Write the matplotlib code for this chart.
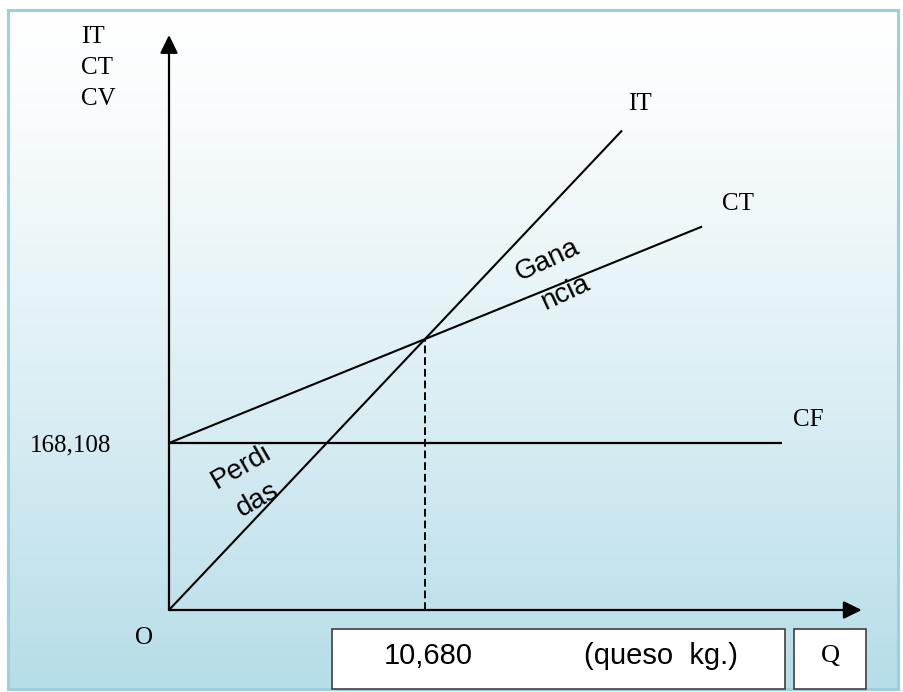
import matplotlib
matplotlib.use("Agg")
import matplotlib.pyplot as plt
import numpy as np
from matplotlib.patches import Rectangle

# ---------------- data ----------------
q_breakeven = 10680          # kg of cheese
cf_value = 168108            # fixed cost
it_q = [0, 18900]            # total revenue line (IT)
it_val = [0, 482700]
ct_q = [0, 22240]            # total cost line (CT)
ct_val = [168108, 386000]
cf_q = [0, 25570]            # fixed cost line (CF)
cf_val = [168108, 168108]
be_q = [10680, 10680]        # break-even drop line
be_val = [0, 272800]
axis_q_max = 28900
axis_val_max = 578800
y_title = ["IT", "CT", "CV"]
curve_labels = ["IT", "CT", "CF"]
tick_y_label = "168,108"
tick_x_label = "10,680"
unit_label = "(queso  kg.)"
q_label = "Q"
origin_label = "O"

# ---------------- layout ----------------
W, H = 904, 692
x0_px, y0_px = 169, 610                 # origin pixel
q_per_px = q_breakeven / 256.0
v_per_px = cf_value / 167.0

fig = plt.figure(figsize=(W / 100, H / 100), dpi=100)
fig.patch.set_facecolor("white")

bg = fig.add_axes([0, 0, 1, 1])
bg.set_axis_off()
bg.set_xlim(0, W)
bg.set_ylim(H, 0)
t = (np.linspace(0, 1, 256) ** 1.25)[:, None, None]
top = np.array([1.0, 1.0, 1.0])
bottom = np.array([182, 221, 232]) / 255.0
img = top + (bottom - top) * t
bg.imshow(img, extent=[8, 898, 689, 10], aspect="auto", zorder=0, interpolation="bilinear")
bg.add_patch(Rectangle((8, 10), 890, 679, fill=False, ec="#9dd0dd", lw=2.2, zorder=1))

ax = fig.add_axes([0, 0, 1, 1])
ax.set_axis_off()
ax.patch.set_alpha(0)
ax.set_xlim(-x0_px * q_per_px, (W - x0_px) * q_per_px)
ax.set_ylim(-(H - y0_px) * v_per_px, y0_px * v_per_px)

serif = "Liberation Serif"
sans = "Liberation Sans"

# axes with arrows
arrow = dict(arrowstyle="-|>,head_length=0.55,head_width=0.27", mutation_scale=20,
             lw=1.6, color="black", shrinkA=0, shrinkB=0)
ax.annotate("", xy=(0, axis_val_max), xytext=(0, 0), arrowprops=arrow)
ax.annotate("", xy=(axis_q_max, 0), xytext=(0, 0), arrowprops=arrow)

# lines
ax.plot(it_q, it_val, color="black", lw=1.5, solid_capstyle="butt")
ax.plot(ct_q, ct_val, color="black", lw=1.5, solid_capstyle="butt")
ax.plot(cf_q, cf_val, color="black", lw=1.6, solid_capstyle="butt")
ax.plot(be_q, be_val, color="black", lw=1.4, ls=(0, (4, 2)))

# labels (pixel coordinates)
P = bg.transData
for i, s in enumerate(y_title):
    ax.text(81, 37 + 31 * i, s, transform=P, fontsize=18, family=serif, ha="left", va="center")
ax.text(628, 104, curve_labels[0], transform=P, fontsize=18, family=serif, ha="left", va="center")
ax.text(722, 204, curve_labels[1], transform=P, fontsize=18, family=serif, ha="left", va="center")
ax.text(793, 420, curve_labels[2], transform=P, fontsize=18, family=serif, ha="left", va="center")
ax.text(30, 445, tick_y_label, transform=P, fontsize=18, family=serif, ha="left", va="center")
ax.text(144, 638, origin_label, transform=P, fontsize=18, family=serif, ha="center", va="center")

ax.text(241, 467, "Perdi", transform=P, fontsize=20, family=sans, rotation=30,
        ha="center", va="center", rotation_mode="anchor")
ax.text(258, 500, "das", transform=P, fontsize=20, family=sans, rotation=30,
        ha="center", va="center", rotation_mode="anchor")
ax.text(547, 260, "Gana", transform=P, fontsize=20, family=sans, rotation=25,
        ha="center", va="center", rotation_mode="anchor")
ax.text(565, 293, "ncia", transform=P, fontsize=20, family=sans, rotation=25,
        ha="center", va="center", rotation_mode="anchor")

# bottom boxes
bg.add_patch(Rectangle((332, 629), 453, 60, fc="white", ec="#404040", lw=1.2, zorder=3))
bg.add_patch(Rectangle((794, 629), 72, 60, fc="white", ec="#404040", lw=1.2, zorder=3))
ax.text(428, 656, tick_x_label, transform=P, fontsize=21, family=sans, ha="center", va="center")
ax.text(584, 656, unit_label, transform=P, fontsize=21, family=sans, ha="left", va="center")
ax.text(830, 656, q_label, transform=P, fontsize=19, family=serif, ha="center", va="center")

fig.savefig("out.png", dpi=100)
